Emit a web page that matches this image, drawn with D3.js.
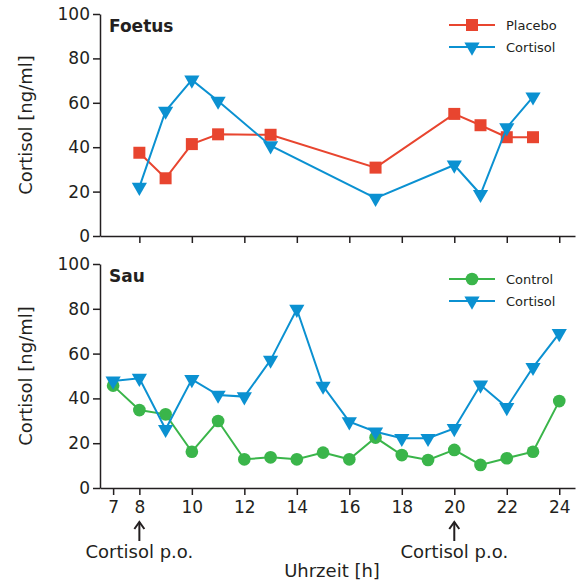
<!DOCTYPE html>
<html><head><meta charset="utf-8">
<script src="https://cdn.jsdelivr.net/npm/d3@7"></script>
<style>body{margin:0;background:#fff}svg{display:block}text{font-family:"DejaVu Sans",Verdana,sans-serif;fill:#231f20}</style>
</head><body><svg id="c" width="578" height="582"></svg>
<script>
// Top panel (Foetus)
const foetusHours = [8, 9, 10, 11, 13, 17, 20, 21, 22, 23];
const foetusPlacebo = [37.5, 26, 41.4, 45.8, 45.6, 30.8, 55, 49.9, 44.5, 44.5];
const foetusCortisol = [22, 56.3, 70.3, 60.8, 40.7, 17, 32, 18.8, 48.8, 62.7];
// Bottom panel (Sau)
const sauHours = [7, 8, 9, 10, 11, 12, 13, 14, 15, 16, 17, 18, 19, 20, 21, 22, 23, 24];
const sauControl = [45.7, 34.8, 32.9, 16.2, 29.9, 12.8, 13.7, 12.8, 15.8, 12.8, 22.5, 14.7, 12.5, 17, 10.3, 13.3, 16.2, 38.8];
const sauCortisol = [47.8, 49, 26.2, 48.5, 41.5, 40.8, 57.1, 79.8, 45.5, 29.6, 25.1, 22.2, 22.2, 26.6, 46, 36, 53.9, 69];
const yTicks = [0, 20, 40, 60, 80, 100];
const topXTicks = [8, 10, 12, 14, 16, 18, 20, 22, 24];
const botXTicks = [7, 8, 10, 12, 14, 16, 18, 20, 22, 24];
const doseHours = [8, 20];

const RED = "#e8452f", BLUE = "#0b91d1", GREEN = "#3ab54a", INK = "#231f20";
const svg = d3.select("#c");
const x = d3.scaleLinear().domain([6.5, 24.6]).range([100, 575]);

const sym = {
  square: d3.symbol(d3.symbolSquare, 144),
  tri: d3.symbol(d3.symbolTriangle, 100),
  circle: d3.symbol(d3.symbolCircle, 126)
};

function panel(y, title, xTicks, showLabels, series, legendY) {
  const g = svg.append("g");
  // y axis
  const ya = g.append("g").attr("transform", "translate(100,0)")
    .call(d3.axisLeft(y).tickValues(yTicks).tickSize(7).tickSizeOuter(0).tickPadding(3));
  ya.select(".domain").attr("stroke", INK).attr("stroke-width", 1.5);
  ya.selectAll(".tick line").attr("stroke", INK).attr("stroke-width", 1.5);
  ya.selectAll(".tick text").style("font-size", "17px").attr("fill", INK);
  // x axis
  const xa = g.append("g").attr("transform", `translate(0,${y(0)})`)
    .call(d3.axisBottom(x).tickValues(xTicks).tickSize(7).tickSizeOuter(0).tickPadding(6)
      .tickFormat(showLabels ? d3.format("d") : ""));
  xa.select(".domain").attr("stroke", INK).attr("stroke-width", 1.5);
  xa.selectAll(".tick line").attr("stroke", INK).attr("stroke-width", 1.5);
  xa.selectAll(".tick text").style("font-size", "17px").attr("fill", INK);
  // y label
  const ym = (y(0) + y(100)) / 2;
  g.append("text").attr("transform", `translate(32,${ym}) rotate(-90)`)
    .attr("text-anchor", "middle").style("font-size", "18px").text("Cortisol [ng/ml]");
  // title
  g.append("text").attr("x", 109).attr("y", y(100) + 18)
    .style("font-size", "17px").style("font-weight", "bold").text(title);
  // series
  series.forEach((s, i) => {
    const pts = s.hours.map((h, j) => [x(h), y(s.values[j])]);
    g.append("path").attr("d", d3.line()(pts)).attr("fill", "none")
      .attr("stroke", s.color).attr("stroke-width", 2);
    g.selectAll(null).data(pts).enter().append("path")
      .attr("d", sym[s.shape]())
      .attr("transform", d => `translate(${d[0]},${d[1]})${s.shape === "tri" ? " rotate(180)" : ""}`)
      .attr("fill", s.color);
    // legend
    const ly = legendY + i * 22;
    g.append("line").attr("x1", 449).attr("x2", 495).attr("y1", ly).attr("y2", ly)
      .attr("stroke", s.color).attr("stroke-width", 2);
    g.append("path").attr("d", sym[s.shape]())
      .attr("transform", `translate(472,${ly})${s.shape === "tri" ? " rotate(180)" : ""}`)
      .attr("fill", s.color);
    g.append("text").attr("x", 506).attr("y", ly).attr("dy", "0.35em")
      .style("font-size", "13px").text(s.name);
  });
}

const yTop = d3.scaleLinear().domain([0, 100]).range([236, 14]);
const yBot = d3.scaleLinear().domain([0, 100]).range([488, 264]);

panel(yTop, "Foetus", topXTicks, false, [
  {name: "Placebo", hours: foetusHours, values: foetusPlacebo, color: RED, shape: "square"},
  {name: "Cortisol", hours: foetusHours, values: foetusCortisol, color: BLUE, shape: "tri"}
], 25);
panel(yBot, "Sau", botXTicks, true, [
  {name: "Control", hours: sauHours, values: sauControl, color: GREEN, shape: "circle"},
  {name: "Cortisol", hours: sauHours, values: sauCortisol, color: BLUE, shape: "tri"}
], 279);

// dose arrows
doseHours.forEach(h => {
  const ax = x(h);
  svg.append("line").attr("x1", ax).attr("x2", ax).attr("y1", 522).attr("y2", 541)
    .attr("stroke", INK).attr("stroke-width", 2);
  svg.append("path").attr("d", `M${ax - 5},${529} L${ax},${522} L${ax + 5},${529}`)
    .attr("fill", "none").attr("stroke", INK).attr("stroke-width", 2);
  svg.append("text").attr("x", ax).attr("y", 558).attr("text-anchor", "middle")
    .style("font-size", "18px").text("Cortisol p.o.");
});
svg.append("text").attr("x", 332).attr("y", 577).attr("text-anchor", "middle")
  .style("font-size", "18px").text("Uhrzeit [h]");
</script></body></html>
